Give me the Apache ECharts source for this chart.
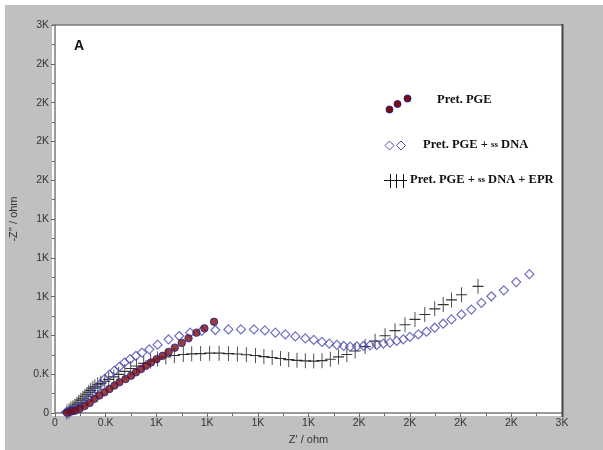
<!DOCTYPE html>
<html><head><meta charset="utf-8">
<script src="https://cdn.jsdelivr.net/npm/echarts@6/dist/echarts.min.js"></script>
<style>html,body{margin:0;padding:0;background:#fff}#c{width:603px;height:450px}</style>
</head><body><div id="c"></div>
<script>
// Tick labels as printed on both axes (values 0..3000 step 300)
var tickLabels = ['0','0.K','1K','1K','1K','1K','2K','2K','2K','2K','3K'];

// Pret. PGE  (Z', -Z'')
var pgeX = [71,94,118,146,175,205,234,263,293,322,352,381,417,450,479,509,538,568,601,637,672,709,750,790,837,884,941];
var pgeY = [4,12,19,33,54,79,110,136,161,186,213,238,263,289,315,340,366,391,417,443,473,506,542,578,622,655,706];

// Pret. PGE + ss DNA
var dnaX = [67,87,116,141,169,194,220,243,267,293,322,352,381,411,444,479,515,558,607,672,735,800,868,949,1026,1100,1177,1242,1304,1363,1422,1481,1531,1580,1623,1668,1708,1746,1786,1825,1864,1904,1943,1982,2022,2061,2100,2150,2198,2247,2297,2346,2405,2464,2523,2582,2656,2729,2807];
var dnaY = [8,15,25,46,77,110,148,186,225,263,297,328,358,391,417,443,468,493,529,570,596,622,635,642,647,647,647,639,622,608,593,578,566,550,537,527,519,514,516,519,524,527,537,545,558,570,589,608,629,660,691,724,762,800,852,903,949,1013,1074];

// Pret. PGE + ss DNA + EPR
var eprX = [71,83,94,106,118,130,141,153,165,177,189,200,212,224,236,253,271,295,318,348,377,413,448,483,525,566,607,656,706,759,809,862,915,971,1026,1079,1132,1186,1236,1285,1334,1383,1432,1481,1531,1580,1629,1678,1727,1776,1835,1894,1953,2012,2071,2130,2188,2247,2297,2346,2405,2503];
var eprY = [8,19,31,42,54,69,84,100,115,130,146,161,176,192,203,219,230,246,261,280,299,322,345,364,384,403,418,434,445,453,458,460,463,463,460,457,451,445,437,430,422,414,408,404,402,405,416,434,453,480,514,556,598,637,683,724,762,806,839,875,915,980];

var seriesNames = ['Pret. PGE','Pret. PGE + ss DNA','Pret. PGE + ss DNA + EPR'];

function zip(a,b){return a.map(function(v,i){return [v,b[i]];});}

var chart = echarts.init(document.getElementById('c'), null, {renderer:'canvas'});
var crossPath = 'path://M5,0L5,12M0,6L10,6';
var labelFmt = function(v){var i=Math.round(v/300);return tickLabels[i]!==undefined?tickLabels[i]:'';};
var axisCommon = {
  min:0, max:3000, interval:300,
  axisLine:{show:true,onZero:false,lineStyle:{color:'#7a7a7a',width:1.5}},
  axisTick:{show:true,inside:false,length:4,lineStyle:{color:'#666'}},
  minorTick:{show:true,splitNumber:2,length:3,lineStyle:{color:'#666'}},
  splitLine:{show:false},
  axisLabel:{formatter:labelFmt,color:'#333',fontFamily:'Liberation Sans, Arial',fontSize:10.5},
  nameTextStyle:{color:'#333',fontFamily:'Liberation Sans, Arial',fontSize:11}
};
var legFont = 'bold 12.5px Liberation Serif, Times New Roman';
var legSmall = 'bold 9px Liberation Serif, Times New Roman';

chart.setOption({
  animation:false,
  backgroundColor:'#ffffff',
  grid:{left:52,right:41,top:25,bottom:34,show:true,backgroundColor:'#ffffff',borderColor:'transparent',borderWidth:0},
  xAxis:Object.assign({type:'value',name:"Z' / ohm",nameLocation:'middle',nameGap:18},axisCommon,
    {axisLabel:Object.assign({},axisCommon.axisLabel,{margin:5})}),
  yAxis:Object.assign({type:'value',name:"-Z'' / ohm",nameLocation:'middle',nameGap:36},axisCommon,
    {axisLabel:Object.assign({},axisCommon.axisLabel,{margin:6})}),
  graphic:[
    {type:'rect',z:-10,shape:{x:5,y:5,width:598,height:445},style:{fill:'#c0c0c0'},silent:true},
    {type:'rect',z:-9,shape:{x:52,y:25,width:510,height:391},style:{fill:'#ffffff'},silent:true},
    {type:'line',z:5,shape:{x1:52,y1:25,x2:563,y2:25},style:{stroke:'#7a7a7a',lineWidth:1.5}},
    {type:'line',z:5,shape:{x1:562.5,y1:24,x2:562.5,y2:417},style:{stroke:'#444',lineWidth:2}},
    {type:'text',left:74,top:39,style:{text:'A',font:'bold 14px Liberation Sans, Arial',fill:'#111'}},
    // legend
    {type:'circle',shape:{cx:389.5,cy:109.5,r:3.5},style:{fill:'#7d0b0b',stroke:'#23238f',lineWidth:1}},
    {type:'circle',shape:{cx:397.5,cy:104,r:3.5},style:{fill:'#7d0b0b',stroke:'#23238f',lineWidth:1}},
    {type:'circle',shape:{cx:407.5,cy:98.5,r:3.5},style:{fill:'#7d0b0b',stroke:'#23238f',lineWidth:1}},
    {type:'text',left:437,top:93,style:{text:'Pret. PGE',font:legFont,fill:'#111'}},
    {type:'polygon',shape:{points:[[389.5,141],[394,145.5],[389.5,150],[385,145.5]]},style:{fill:'none',stroke:'#4b4bb0',lineWidth:1}},
    {type:'polygon',shape:{points:[[401,141],[405.5,145.5],[401,150],[396.5,145.5]]},style:{fill:'none',stroke:'#4b4bb0',lineWidth:1}},
    {type:'text',left:423,top:138,style:{
      text:'{b|Pret. PGE + }{s|ss}{b| DNA}',
      rich:{b:{font:legFont,fill:'#111'},s:{font:legSmall,fill:'#111'}}}},
    {type:'line',shape:{x1:384,y1:180.5,x2:407,y2:180.5},style:{stroke:'#111',lineWidth:1}},
    {type:'line',shape:{x1:390.5,y1:174,x2:390.5,y2:188},style:{stroke:'#111',lineWidth:1}},
    {type:'line',shape:{x1:396.5,y1:174,x2:396.5,y2:188},style:{stroke:'#111',lineWidth:1}},
    {type:'line',shape:{x1:403.5,y1:174,x2:403.5,y2:188},style:{stroke:'#111',lineWidth:1}},
    {type:'text',left:410,top:173,style:{
      text:'{b|Pret. PGE + }{s|ss}{b| DNA + EPR}',
      rich:{b:{font:legFont,fill:'#111'},s:{font:legSmall,fill:'#111'}}}}
  ],
  series:[
    {name:seriesNames[2],type:'scatter',data:zip(eprX,eprY),symbol:crossPath,symbolSize:[11,15],
     itemStyle:{color:'none',borderColor:'#111',borderWidth:1,opacity:0.85},z:2},
    {name:seriesNames[1],type:'scatter',data:zip(dnaX,dnaY),symbol:'diamond',symbolSize:9,
     itemStyle:{color:'rgba(255,255,255,0)',borderColor:'#4b4bb0',borderWidth:1.2},z:3},
    {name:seriesNames[0],type:'scatter',data:zip(pgeX,pgeY),symbol:'circle',symbolSize:7.5,
     itemStyle:{color:'#7d0b0b',borderColor:'#23238f',borderWidth:1},z:4}
  ]
});
</script></body></html>
